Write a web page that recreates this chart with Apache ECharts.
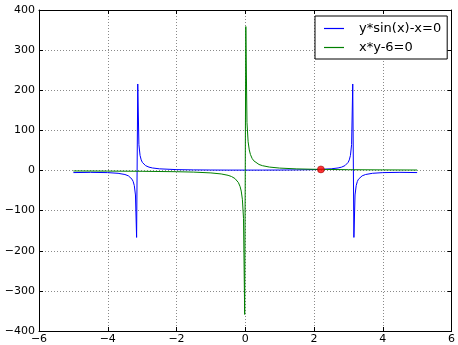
<!DOCTYPE html>
<html><head><meta charset="utf-8">
<script src="https://cdn.jsdelivr.net/npm/echarts@6/dist/echarts.min.js"></script>
<style>html,body{margin:0;padding:0;background:#fff}#c{width:458px;height:345px}</style>
</head><body><div id="c"></div>
<script>
// y*sin(x)-x=0  (blue)
const blueX = [-5, -4.5, -4, -3.7, -3.5, -3.4, -3.29431, -3.26087, -3.22742, -3.19398, -3.16054, -3.12709, -3.09365, -3.0602, -3.02676, -2.99331, -2.9, -2.8, -2.7, -2.5, -2, -1.5, -1, -0.5, 0,
  0.5, 1, 1.5, 2, 2.5, 2.7, 2.8, 2.9, 2.99331, 3.02676, 3.0602, 3.09365, 3.12709, 3.16054, 3.19398, 3.22742, 3.26087, 3.29431, 3.4, 3.5, 3.7, 4, 4.5, 5];
const blueY = [-5.21, -4.60, -5.29, -6.98, -9.98, -13.30, -21.65, -27.40, -37.65, -61.0, -166.8, 215.6, 64.56, 37.64, 26.42, 20.26, 12.12, 8.36, 6.32, 4.18, 2.2, 1.50, 1.19, 1.04, 1.0,
  1.04, 1.19, 1.50, 2.2, 4.18, 6.32, 8.36, 12.12, 20.26, 26.42, 37.64, 64.56, 215.6, -166.8, -61.0, -37.65, -27.40, -21.65, -13.30, -9.98, -6.98, -5.29, -4.60, -5.21];
// x*y-6=0  (green)
const greenX = [-5, -4, -3, -2, -1.5, -1, -0.7, -0.5, -0.4, -0.3, -0.25, -0.2, -0.1505, -0.11706, -0.08361, -0.05017, -0.01672,
  0.01672, 0.05017, 0.08361, 0.11706, 0.1505, 0.2, 0.25, 0.3, 0.4, 0.5, 0.7, 1, 1.5, 2, 3, 4, 5];
const greenY = [-1.2, -1.5, -2, -3, -4, -6, -8.57, -12, -15, -20, -24, -30, -39.87, -51.26, -71.76, -119.6, -358.8,
  358.8, 119.6, 71.76, 51.26, 39.87, 30, 24, 20, 15, 12, 8.57, 6, 4, 3, 2, 1.5, 1.2];
// intersection point
const pointX = [2.2];
const pointY = [2.72];
const seriesNames = ['y*sin(x)-x=0', 'x*y-6=0'];
const xTicks = {min: -6, max: 6, step: 2};
const yTicks = {min: -400, max: 400, step: 100};

const pairs = (xs, ys) => xs.map((x, i) => [x, ys[i]]);
const fmt = v => String(v).replace('-', '\u2212');
const font = 'DejaVu Sans';
const split = {show: true, lineStyle: {color: '#8a8a8a', width: 1, type: [1, 2]}};
const line = {show: true, onZero: false, lineStyle: {color: '#000', width: 1}};
const tick = {show: true, inside: true, length: 4, lineStyle: {color: '#000', width: 1}};

const chart = echarts.init(document.getElementById('c'), null, {renderer: 'canvas'});
chart.setOption({
  animation: false,
  backgroundColor: '#fff',
  grid: {left: 39, right: 4, top: 10, bottom: 13, containLabel: false},
  legend: {
    data: seriesNames.map(n => ({name: n, icon: 'rect'})),
    orient: 'vertical', left: 315, top: 16,
    itemWidth: 20, itemHeight: 1.2, itemGap: 6,
    padding: [6, 6, 5, 9],
    backgroundColor: '#fff', borderColor: '#000', borderWidth: 1, borderRadius: 0,
    textStyle: {fontFamily: font, fontSize: 13, lineHeight: 13, color: '#000', padding: [0, 0, 0, 10]}
  },
  xAxis: [
    {type: 'value', min: xTicks.min, max: xTicks.max, interval: xTicks.step, position: 'bottom',
     axisLine: line, axisTick: tick, splitLine: split,
     axisLabel: {formatter: fmt, fontFamily: font, fontSize: 11, color: '#000', margin: 3}},
    {type: 'value', min: xTicks.min, max: xTicks.max, interval: xTicks.step, position: 'top',
     axisLine: line, axisTick: tick, splitLine: {show: false}, axisLabel: {show: false}}
  ],
  yAxis: [
    {type: 'value', min: yTicks.min, max: yTicks.max, interval: yTicks.step, position: 'left',
     axisLine: line, axisTick: tick, splitLine: split,
     axisLabel: {formatter: fmt, fontFamily: font, fontSize: 11, color: '#000', margin: 4}},
    {type: 'value', min: yTicks.min, max: yTicks.max, interval: yTicks.step, position: 'right',
     axisLine: line, axisTick: tick, splitLine: {show: false}, axisLabel: {show: false}}
  ],
  series: [
    {name: seriesNames[0], type: 'line', data: pairs(blueX, blueY), showSymbol: false, symbol: 'none',
     color: '#0000ff', lineStyle: {color: '#0000ff', width: 1}, z: 2},
    {name: seriesNames[1], type: 'line', data: pairs(greenX, greenY), showSymbol: false, symbol: 'none',
     color: '#008000', lineStyle: {color: '#008000', width: 1}, z: 3},
    {name: 'point', type: 'scatter', data: pairs(pointX, pointY), symbolSize: 7,
     itemStyle: {color: '#ff0000', borderColor: '#800000', borderWidth: 0.6}, z: 4}
  ]
});
</script></body></html>
